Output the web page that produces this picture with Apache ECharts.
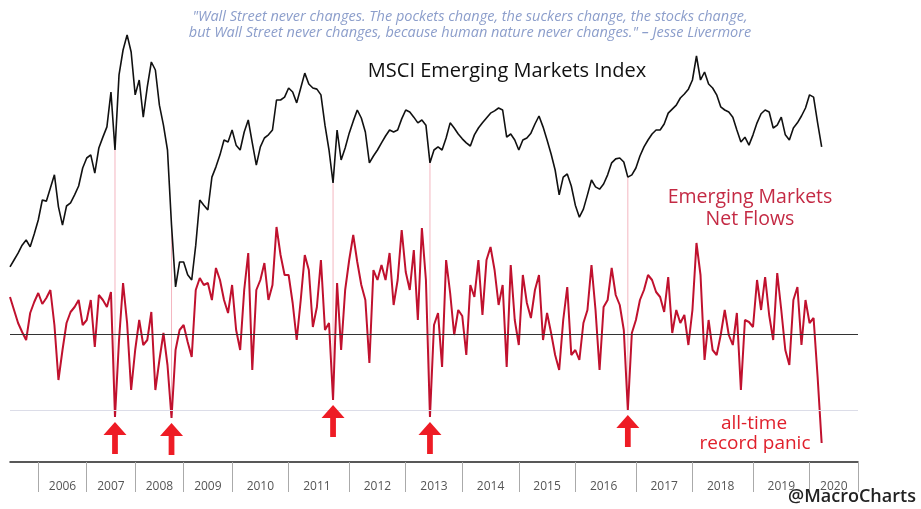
<!DOCTYPE html>
<html><head><meta charset="utf-8">
<script src="https://cdn.jsdelivr.net/npm/echarts@6/dist/echarts.min.js"></script>
<style>html,body{margin:0;padding:0;background:#fff}#c{width:921px;height:509px}</style>
</head><body><div id="c"></div>
<script>
// Year blocks and number of sample points in each (last entry = closing boundary)
const years = ['2005','2006','2007','2008','2009','2010','2011','2012','2013','2014','2015','2016','2017','2018','2019','2020','2021'];
const slotsPerYear = [7,12,12,12,12,14,15,14,14,14,14,15,14,15,14,12,1];
const labelYears = ['2006','2007','2008','2009','2010','2011','2012','2013','2014','2015','2016','2017','2018','2019','2020'];

// MSCI Emerging Markets Index (approx. level)
const msci = [516,540,564,592,610,586,631,680,750,746,
792,838,726,662,729,740,768,799,862,897,
908,844,932,970,1006,1128,925,1188,1275,1328,
1268,1118,1170,1040,1146,1233,1205,1082,1012,925,
662,446,533,533,488,470,592,750,732,715,
830,866,908,960,953,995,942,925,988,1030,
950,872,936,967,978,995,1100,1100,1110,1142,
1128,1090,1142,1194,1156,1142,1138,1118,1012,925,
810,995,890,932,984,1026,1065,1037,988,880,
904,925,950,974,995,988,995,1034,1065,1058,
1040,1020,1030,1012,880,925,936,925,967,1020,
1002,981,964,950,939,978,1002,1020,1037,1054,
1062,1072,1065,970,981,960,925,960,967,984,
1016,1044,1006,960,911,855,768,830,841,799,
732,690,718,768,820,796,788,806,838,880,
894,897,883,830,838,862,904,936,960,981,
995,995,1016,1054,1068,1082,1107,1121,1138,1170,
1254,1170,1198,1156,1142,1118,1076,1065,1058,1040,
995,953,970,942,978,1020,1052,1065,1058,1002,
1012,1040,978,960,1002,1020,1044,1072,1118,1110,
1020,936];

// Emerging Markets net flows
const flows = [3.7,2.4,1.1,0.2,-0.6,2.1,3.2,4.1,3.0,3.6,
4.4,0.9,-4.6,-1.6,1.1,2.2,2.7,3.4,0.9,1.4,
3.4,-1.3,3.9,3.4,2.7,4.2,-8.3,-0.6,5.1,1.1,
-5.6,-1.6,1.4,-1.1,-0.6,2.2,-5.6,-2.6,0.1,-3.1,
-8.4,-1.6,0.4,0.9,-0.8,-2.3,4.4,5.6,4.9,5.1,
3.4,6.6,5.4,3.4,2.1,4.9,0.4,-1.6,4.4,8.1,
-3.6,4.4,5.4,7.1,3.4,4.9,10.7,7.9,5.9,5.9,
3.1,-0.6,3.4,7.9,6.4,0.7,2.7,7.4,0.4,1.1,
-6.6,5.1,-1.6,4.4,7.4,9.9,7.2,4.9,3.4,-2.9,
6.4,5.4,6.9,5.4,8.1,2.9,5.4,10.4,6.2,4.4,
8.4,1.4,10.6,5.4,-8.3,0.9,2.1,-3.3,7.4,4.1,
-0.1,2.4,1.8,-2.1,4.9,3.7,7.4,1.9,7.4,8.7,
6.4,2.9,4.9,-3.3,6.9,1.4,-1.1,5.9,3.1,1.6,
4.4,5.9,-0.6,2.1,0.1,-2.1,-3.6,1.4,4.7,-2.1,
-1.6,-2.6,1.1,2.4,6.9,2.4,-3.6,2.7,3.4,6.6,
3.9,2.9,0.4,-7.6,0.1,1.4,3.4,4.4,5.9,5.4,
4.2,3.7,2.2,5.7,0.1,2.4,1.1,1.9,-1.1,2.4,
9.1,5.9,-2.6,1.4,-1.6,-2.1,-0.1,2.4,-0.1,-1.1,
2.1,-5.6,1.4,1.2,0.7,5.4,2.4,5.7,1.9,-0.6,
6.1,2.4,-1.6,-3.1,3.4,4.7,-1.1,3.4,1.1,1.6,
-4.3,-10.9];

const panicSlots = [26,40,80,104,153];
const panicLevel = -7.6;
const quoteLines = ['"Wall Street never changes. The pockets change, the suckers change, the stocks change,',
  'but Wall Street never changes, because human nature never changes." \u2013 Jesse Livermore'];
const titleText = 'MSCI Emerging Markets Index';
const flowsLabel = ['Emerging Markets','Net Flows'];
const panicLabel = ['all-time','record panic'];
const credit = '@MacroCharts';

// categories
const categories = [], tickIdx = new Set(), labelIdx = new Set();
years.forEach((y, k) => {
  const start = categories.length;
  for (let j = 0; j < slotsPerYear[k]; j++) categories.push(y + '-' + j);
  if (k > 0) tickIdx.add(start);
  if (labelYears.indexOf(y) >= 0) labelIdx.add(start + Math.floor(slotsPerYear[k] / 2));
});

const FONT = '"Open Sans", "DejaVu Sans", sans-serif';
const chart = echarts.init(document.getElementById('c'));
chart.setOption({
  animation: false,
  backgroundColor: '#fff',
  grid: { left: 10, right: 63, top: 20, bottom: 47 },
  xAxis: {
    type: 'category', data: categories, boundaryGap: false,
    axisLine: { onZero: false, lineStyle: { color: '#222', width: 1.5 } },
    axisTick: { show: true, length: 30, interval: (i) => tickIdx.has(i), lineStyle: { color: '#aaa', width: 1 } },
    axisLabel: { interval: (i) => labelIdx.has(i), formatter: (v) => v.split('-')[0],
      margin: 19, color: '#555', fontSize: 12, fontFamily: FONT },
    splitLine: { show: false }
  },
  yAxis: [
    { type: 'value', min: -167, max: 1380, show: false, splitLine: { show: false } },
    { type: 'value', min: -12.8, max: 31.4, show: false, splitLine: { show: false } }
  ],
  series: [
    { type: 'line', name: 'refs', yAxisIndex: 1, data: flows, showSymbol: false, silent: true, z: 1,
      lineStyle: { opacity: 0 },
      markLine: { silent: true, symbol: 'none', label: { show: false },
        data: [ { yAxis: 0, lineStyle: { color: '#333', width: 1, type: 'solid' } },
                { yAxis: panicLevel, lineStyle: { color: '#dcdde8', width: 1.2, type: 'solid' } } ] } },
    { type: 'line', name: 'Net Flows', yAxisIndex: 1, data: flows, showSymbol: false, z: 3,
      lineStyle: { color: '#c0112e', width: 2 } },
    { type: 'line', name: 'MSCI EM', yAxisIndex: 0, data: msci, showSymbol: false, z: 4,
      lineStyle: { color: '#111', width: 1.6 } },
    { type: 'scatter', yAxisIndex: 1, z: 5,
      data: panicSlots.map(i => [i, flows[i]]),
      symbol: 'path://M12,0 L24,13 L15,13 L15,32 L9,32 L9,13 L0,13 Z',
      symbolSize: [23, 32], symbolOffset: [0, 21],
      itemStyle: { color: '#ee1c25', opacity: 1 } }
  ]
});

const els = [];
panicSlots.forEach(i => {
  const p1 = chart.convertToPixel({ seriesIndex: 2 }, [i, msci[i]]);
  const p2 = chart.convertToPixel({ seriesIndex: 1 }, [i, flows[i]]);
  els.push({ type: 'line', silent: true, z: 1,
    shape: { x1: p1[0], y1: p1[1], x2: p2[0], y2: p2[1] },
    style: { stroke: '#f4b6c0', lineWidth: 1 } });
});
const txt = (t, x, y, font, color) => ({ type: 'text', x, y, z: 10, silent: true,
  style: { text: t, fill: color, font: font + ' ' + FONT, textAlign: 'center', textVerticalAlign: 'middle' } });
els.push(txt(quoteLines[0], 470, 17, 'italic 14.5px', '#8c9ecb'));
els.push(txt(quoteLines[1], 470, 33, 'italic 14.5px', '#8c9ecb'));
els.push(txt(titleText, 507, 71, '20px', '#111'));
els.push(txt(flowsLabel[0], 750, 197, '19.5px', '#c42a44'));
els.push(txt(flowsLabel[1], 750, 219, '19.5px', '#c42a44'));
els.push(txt(panicLabel[0], 754, 424, '19px', '#e0202c'));
els.push(txt(panicLabel[1], 755, 444, '19px', '#e0202c'));
els.push(txt(credit, 852, 497, '600 18px', '#222'));
chart.setOption({ graphic: { elements: els } });
</script></body></html>
